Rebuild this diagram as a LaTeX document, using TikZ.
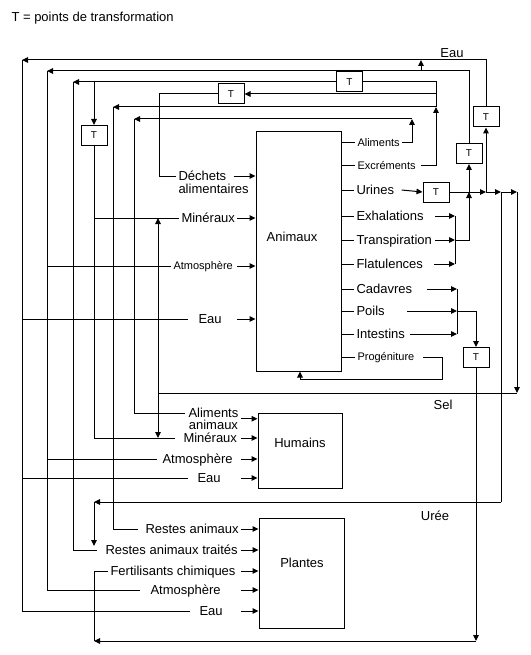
\documentclass[tikz,border=0pt]{standalone}
\usepackage{fontspec}
\setmainfont{Liberation Sans}
\usetikzlibrary{arrows.meta, positioning, calc}

\newcommand{\lblfont}{\fontsize{13}{15}\selectfont}
\newcommand{\smlfont}{\fontsize{11}{13}\selectfont}

\begin{document}
\begin{tikzpicture}[
        x=1pt, y=-1pt,
        line width=1pt,
        box/.style={rectangle, draw, inner sep=0pt},
        tbox/.style={rectangle, draw, minimum width=26pt, minimum height=20pt, inner sep=0pt, font=\fontsize{10}{12}\selectfont},
        lbl/.style={font=\lblfont, anchor=west, inner ysep=1pt, inner xsep=2pt, text height=9.5pt, text depth=0pt},
        sml/.style={lbl, font=\smlfont, text height=7.5pt},
        arr/.style={-{Triangle[length=6pt, width=5.5pt]}}
    ]
        \useasboundingbox (0,0) rectangle (530,655);

        % Legend
        \node[lbl] (title) at (9,17) {T = points de transformation};

        % Main boxes
        \node[box, minimum width=85pt, minimum height=239pt] (animaux) at (298.5,251.5) {};
        \node[box, minimum width=84pt, minimum height=75pt] (humains) at (300,450.5) {};
        \node[box, minimum width=85pt, minimum height=110pt] (plantes) at (301.5,573) {};
        \node[lbl, anchor=center] (animauxT) at (292,237) {Animaux};
        \node[lbl, anchor=center] (humainsT) at (300,443) {Humains};
        \node[lbl, anchor=center] (plantesT) at (302,563) {Plantes};

        % Transformation points
        \node[tbox] (tA) at (231,94) {T};
        \node[tbox] (tB) at (349.5,82) {T};
        \node[tbox] (tC) at (94,135.5) {T};
        \node[tbox] (tD) at (486,117) {T};
        \node[tbox] (tE) at (469,153.5) {T};
        \node[tbox] (tF) at (436,192) {T};
        \node[tbox] (tG) at (476,357.5) {T};

        % Outputs of Animaux
        \foreach \n/\t/\y in {urin/Urines/190, exha/Exhalations/216, tran/Transpiration/240, flat/Flatulences/264, cada/Cadavres/289, poil/Poils/311, inte/Intestins/334} {
            \node[lbl] (\n) at (354,\y) {\t};
            \draw (animaux.east |- \n.west) -- (\n.west);
        }
        \foreach \n/\t/\y in {alim/Aliments/143, excr/Excréments/166, prog/Progéniture/357} {
            \node[sml] (\n) at (355,\y) {\t};
            \draw (animaux.east |- \n.west) -- (\n.west);
        }

        % Inputs of Animaux
        \node[lbl] (dech) at (176,176) {Déchets};
        \node[lbl, anchor=north west] (dech2) at (dech.south west) {alimentaires};
        \node[lbl] (aMin) at (179,218) {Minéraux};
        \node[sml] (aAtm) at (171,266) {Atmosphère};
        \node[lbl, inner xsep=10pt] (aEau) at (188,319) {Eau};

        % Inputs of Humains
        \node[lbl, inner xsep=3pt, inner ysep=0.5pt] (hAli) at (185,413) {Aliments};
        \node[lbl, anchor=north, inner ysep=0.5pt] (hAli2) at (hAli.south) {animaux};
        \node[lbl, inner xsep=8pt] (hMin) at (175,438) {Minéraux};
        \node[lbl, inner xsep=5pt] (hAtm) at (157,459) {Atmosphère};
        \node[lbl, inner xsep=9pt] (hEau) at (188,478) {Eau};

        % Inputs of Plantes
        \node[lbl, inner xsep=7pt] (pRa) at (138,529) {Restes animaux};
        \node[lbl, inner xsep=8pt] (pRat) at (97,550) {Restes animaux traités};
        \node[lbl] (pFert) at (108,571) {Fertilisants chimiques};
        \node[lbl, inner xsep=10pt] (pAtm) at (140,590) {Atmosphère};
        \node[lbl, inner xsep=9pt] (pEau) at (190,611) {Eau};

        % Flow names
        \node[lbl, anchor=center] (eauT) at (452,53) {Eau};
        \node[lbl, anchor=center] (selT) at (443,405) {Sel};
        \node[lbl, anchor=center] (ureeT) at (435,516) {Urée};

        % Corners of the loops
        \coordinate (cEau) at (22,60);
        \coordinate (cAtm) at (47,71);
        \coordinate (cRat) at (73,82);
        \coordinate (cMin) at (94,82);
        \coordinate (cDe)  at (159,94);
        \coordinate (cRa)  at (113,107);
        \coordinate (cAli) at (134,119);
        \coordinate (jAl)  at (412,119);
        \coordinate (jEx)  at (436,107);
        \coordinate (jEA)  at (421,71);
        \coordinate (u1) at (469,192);
        \coordinate (u2) at (486,192);
        \coordinate (u3) at (501,192);
        \coordinate (u4) at (517,192);
        \coordinate (gE) at (455,240);
        \coordinate (gC) at (457,311);
        \coordinate (jPg) at (442,379);
        \coordinate (cSel) at (158,393);
        \coordinate (cUr) at (94,502);
        \coordinate (cFe) at (94,641);
        \coordinate (ain) at (237,0);
        \coordinate (hin) at (241,0);

        % Water loop
        \draw[arr] (tD.north) |- (cEau);
        \draw (cEau) |- (pEau.west);
        \draw (cEau |- aEau.west) -- (aEau.west);
        \draw (cEau |- hEau.west) -- (hEau.west);
        \draw[arr] (jEA) -- (jEA |- cEau);

        % Atmosphere loop
        \draw[arr] (tE.north) |- (cAtm);
        \draw (cAtm) |- (pAtm.west);
        \draw (cAtm |- aAtm.west) -- (aAtm.west);
        \draw (cAtm |- hAtm.west) -- (hAtm.west);

        % Excrements
        \draw[arr] ([xshift=3pt]excr.east) -| (jEx);
        \draw (jEx) |- (tB.east);
        \draw[arr] (jEx) -- (cRa);
        \draw (cRa) |- (pRa.west);
        \draw[arr] (jEx |- cDe) -- (tA.east);
        \draw (tA.west) -- (cDe) |- (dech.west);
        \draw[arr] (tB.west) -- (cRat);
        \draw (cRat) |- (pRat.west);
        \draw[arr] (cMin) -- (tC.north);
        \draw (tC.south) |- (hMin.west);
        \draw (cMin |- aMin.west) -- (aMin.west);

        % Aliments
        \draw[arr] (alim.east) -| (jAl);
        \draw[arr] (jAl) -- (cAli);
        \draw (cAli) |- (hAli.west);

        % Urines
        \draw[arr] ([xshift=5pt]urin.east) -- (tF.west);
        \draw[arr] (tF.east) -- (u2);
        \draw[arr] (u2) -- (u3);
        \draw[arr] (u3) -- (u4);
        \draw[arr] (u1) -- (tE.south);
        \draw[arr] (u2) -- (tD.south);

        % Exhalations, transpiration, flatulences
        \draw[arr] ([xshift=9pt]exha.east) -- (exha.east -| gE);
        \draw[arr] ([xshift=1pt]tran.east) -- (gE);
        \draw[arr] ([xshift=9pt]flat.east) -- (flat.east -| gE);
        \draw (exha.east -| gE) -- (flat.east -| gE);
        \draw[arr] (gE) -| (u1);

        % Sel
        \draw[arr] (u4) -- (u4 |- cSel);
        \draw (u4 |- cSel) -- (cSel);
        \draw[arr] (cSel) -- (cSel |- aMin.west);
        \draw[arr] (cSel) -- (cSel |- hMin.west);

        % Uree
        \draw (u3) -- (u3 |- cUr);
        \draw[arr] (u3 |- cUr) -- (cUr);
        \draw[arr, shorten >=4pt] (cUr) -- (cUr |- pRat.west);

        % Cadavres, poils, intestins
        \draw[arr] ([xshift=12pt]cada.east) -- (cada.east -| gC);
        \draw[arr] ([xshift=20pt]poil.east) -- (gC);
        \draw[arr] ([xshift=3pt]inte.east) -- (inte.east -| gC);
        \draw (cada.east -| gC) -- (inte.east -| gC);
        \draw[arr] (gC) -| (tG.north);
        \draw[arr] (tG.south) -- (tG.south |- cFe);
        \draw[arr] (tG.south |- cFe) -- (cFe);
        \draw (cFe) |- (pFert.west);

        % Progeniture
        \draw[arr] ([xshift=6pt]prog.east) -| (jPg) -| ([xshift=1.5pt]animaux.south);

        % Arrows into the boxes
        \draw[arr] ([xshift=5pt]dech.east) -- (dech.east -| animaux.west);
        \foreach \n in {aMin, aAtm, aEau} \draw[arr] (ain |- \n.east) -- (animaux.west |- \n.east);
        \draw[arr] (hin |- hAli.south) -- (humains.west |- hAli.south);
        \foreach \n in {hMin, hAtm, hEau} \draw[arr] (hin |- \n.east) -- (humains.west |- \n.east);
        \foreach \n in {pRa, pRat, pFert, pAtm, pEau} \draw[arr] (hin |- \n.east) -- (plantes.west |- \n.east);
    \end{tikzpicture}
\end{document}
